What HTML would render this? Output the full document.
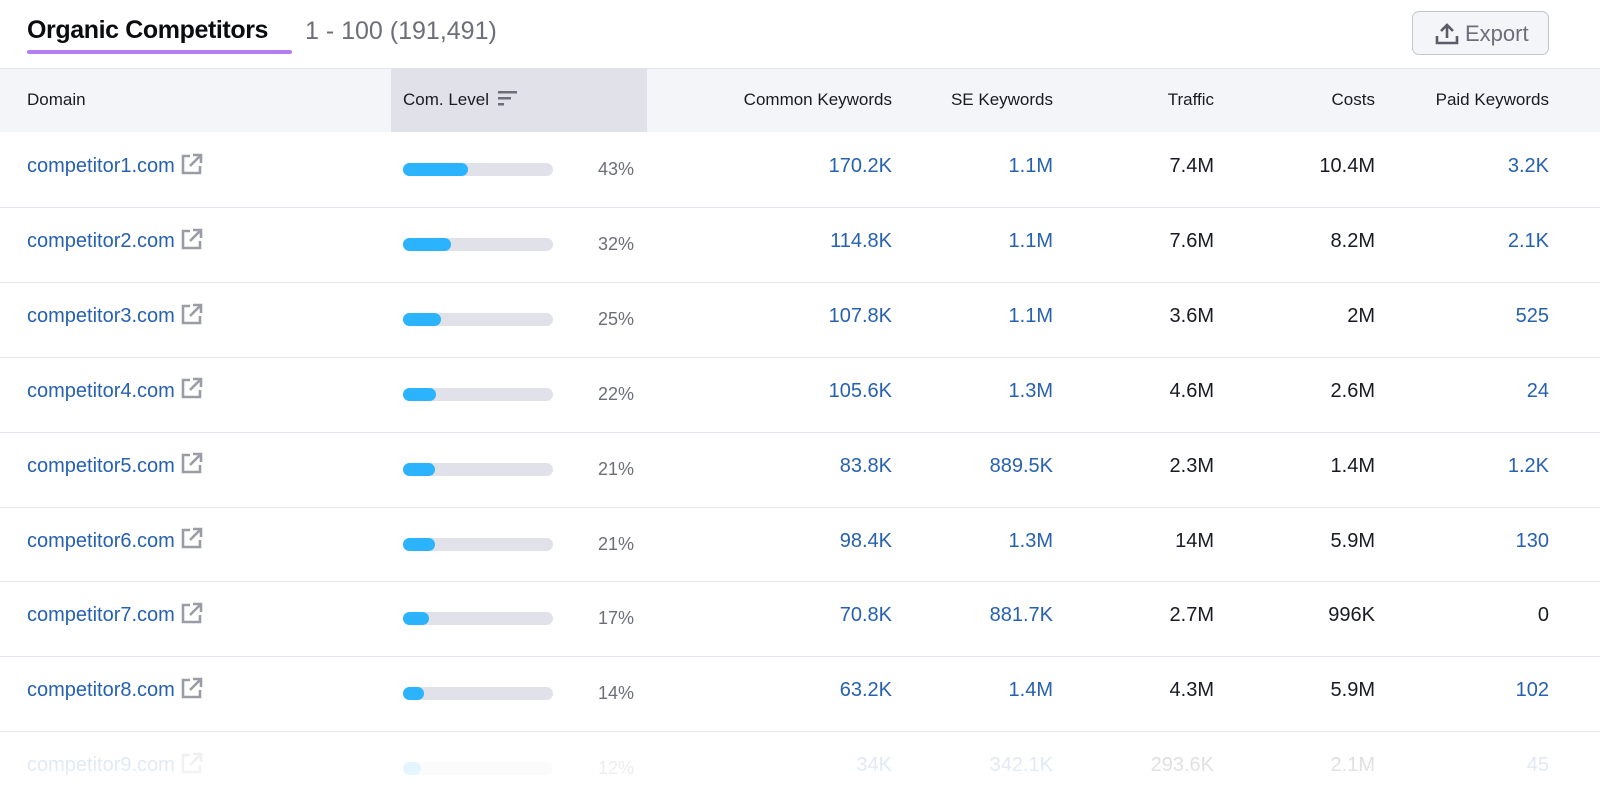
<!DOCTYPE html>
<html><head><meta charset="utf-8"><style>
*{margin:0;padding:0;box-sizing:border-box}
body{width:1600px;height:808px;background:#fff;font-family:"Liberation Sans",sans-serif;position:relative;overflow:hidden;color:#191b23}
.title{position:absolute;left:27px;top:16px;font-size:25px;font-weight:bold;color:#0b0c10;letter-spacing:-0.4px}
.uline{position:absolute;left:27px;top:50px;width:265px;height:4px;border-radius:2px;background:#b37ff5}
.count{position:absolute;left:305px;top:17px;font-size:25px;color:#6c6e79}
.export{position:absolute;left:1412px;top:11px;width:137px;height:44px;border:1px solid #c4c6cf;border-radius:7px;background:#f4f5f9;font-size:22px;color:#6c6e79;padding:9px 0 0 52px}
.hdr{position:absolute;left:0;top:68px;width:1600px;height:64px;background:#f4f5f9;border-top:1px solid #e3e4ea}
.hcl{position:absolute;left:391px;top:68px;width:256px;height:64px;background:#e0e1e9}
.h{position:absolute;top:90px;font-size:17px;color:#191b23}
.r{text-align:right}
.sep{position:absolute;left:0;width:1600px;height:1px;background:#e6e7ec}
.c{position:absolute;font-size:20px;line-height:24px;height:24px}
.c svg{position:relative;top:-3px;vertical-align:middle}
.dom{color:#2661b0}
.bl{color:#2661b0}
.bar{position:absolute;width:150px;height:13px;border-radius:7px;background:#e0e1e9}
.fill{height:13px;border-radius:7px;background:#2bb3fd}
.pct{position:absolute;font-size:18px;line-height:24px;color:#6c6e79;width:60px;text-align:right}
.fade{position:absolute;left:0;top:732px;width:1600px;height:76px;background:linear-gradient(rgba(255,255,255,0.8),rgba(255,255,255,0.95))}
</style></head><body>
<div class="title">Organic Competitors</div><div class="uline"></div>
<div class="count">1 - 100 (191,491)</div>
<div class="export"><svg style="position:absolute;left:22px;top:11px" width="24" height="22" viewBox="0 0 24 22"><path d="M12 15V3M6 8l6-6 6 6" stroke="#5a5c68" stroke-width="2.6" fill="none"/><path d="M2 13v7h20v-7" stroke="#5a5c68" stroke-width="2.6" fill="none"/></svg>Export</div>
<div class="hdr"></div><div class="hcl"></div>
<div class="h" style="left:27px">Domain</div>
<div class="h" style="left:403px">Com. Level <svg width="20" height="16" viewBox="0 0 20 16" style="vertical-align:-1px;margin-left:4px"><rect x="0" y="1" width="19" height="2.5" fill="#6c6e79"/><rect x="0" y="7" width="13" height="2.5" fill="#6c6e79"/><rect x="0" y="13" width="6" height="2.5" fill="#6c6e79"/></svg></div>
<div class="h r" style="right:708px">Common Keywords</div>
<div class="h r" style="right:547px">SE Keywords</div>
<div class="h r" style="right:386px">Traffic</div>
<div class="h r" style="right:225px">Costs</div>
<div class="h r" style="right:51px">Paid Keywords</div>
<div id="rows"></div>
<script>
var d=[["1",43,"170.2K","1.1M","7.4M","10.4M","3.2K",1],["2",32,"114.8K","1.1M","7.6M","8.2M","2.1K",1],["3",25,"107.8K","1.1M","3.6M","2M","525",1],["4",22,"105.6K","1.3M","4.6M","2.6M","24",1],["5",21,"83.8K","889.5K","2.3M","1.4M","1.2K",1],["6",21,"98.4K","1.3M","14M","5.9M","130",1],["7",17,"70.8K","881.7K","2.7M","996K","0",0],["8",14,"63.2K","1.4M","4.3M","5.9M","102",1],["9",12,"34K","342.1K","293.6K","2.1M","45",1]];
var h="";
d.forEach(function(r,i){var y=154+i*74.9;
if(i>0)h+='<div class="sep" style="top:'+(132+i*74.9)+'px"></div>';
h+='<div class="c dom" style="left:27px;top:'+y+'px">competitor'+r[0]+'.com <svg width="24" height="24" viewBox="0 0 24 24"><path d="M10 4H3v17h17v-7" stroke="#9a9ca6" stroke-width="2.6" fill="none"/><path d="M10 14L21 3M13 3h8v8" stroke="#9a9ca6" stroke-width="2.6" fill="none"/></svg></div>';
h+='<div class="bar" style="left:403px;top:'+(y+9)+'px"><div class="fill" style="width:'+Math.max(16,r[1]*1.5)+'px"></div></div>';
h+='<div class="pct" style="left:574px;top:'+(y+3)+'px">'+r[1]+'%</div>';
h+='<div class="c r bl" style="right:708px;top:'+y+'px">'+r[2]+'</div>';
h+='<div class="c r bl" style="right:547px;top:'+y+'px">'+r[3]+'</div>';
h+='<div class="c r" style="right:386px;top:'+y+'px">'+r[4]+'</div>';
h+='<div class="c r" style="right:225px;top:'+y+'px">'+r[5]+'</div>';
h+='<div class="c r '+(r[7]?'bl':'')+'" style="right:51px;top:'+y+'px">'+r[6]+'</div>';});
document.getElementById("rows").innerHTML=h;
</script>
<div class="fade"></div>
</body></html>
